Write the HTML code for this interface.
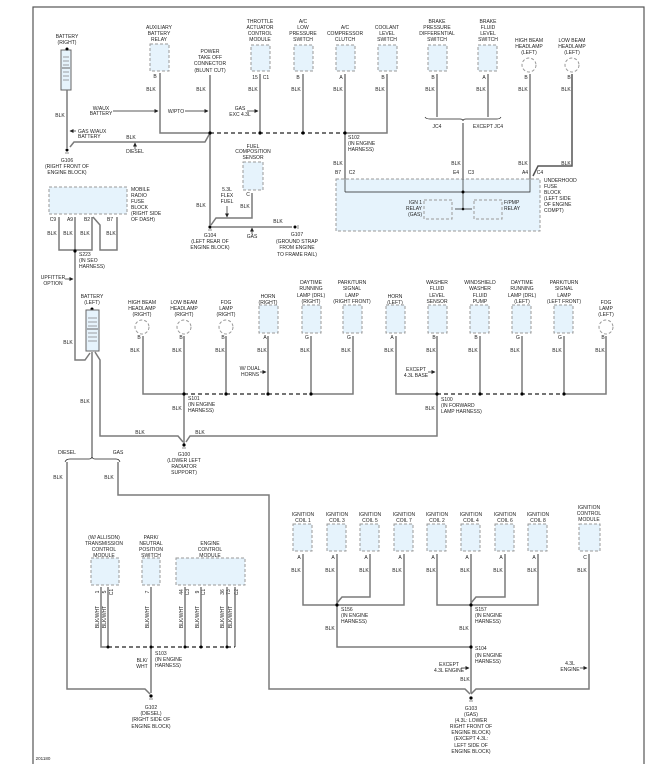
<!DOCTYPE html>
<html><head><meta charset="utf-8"><style>
html,body{margin:0;padding:0;background:#fff}
svg{display:block}
text{font-family:"Liberation Sans",sans-serif;font-size:5px;fill:#222;text-anchor:middle}
.l{text-anchor:start}.r{text-anchor:end}
.w{stroke:#7a7a7a;stroke-width:1.5;fill:none}
.d{stroke:#222;stroke-width:1.2;fill:none;stroke-dasharray:4 3}
.b{fill:#e6f3fc;stroke:#999;stroke-width:1;stroke-dasharray:3 2}
.c{fill:none;stroke:#999;stroke-width:1;stroke-dasharray:3 2}
.a{stroke:#222;stroke-width:.7;fill:none;marker-end:url(#ah)}
.n{stroke:#222;stroke-width:.7;fill:none}
</style></head><body>
<svg width="658" height="764" viewBox="0 0 658 764" xmlns="http://www.w3.org/2000/svg">
<defs><marker id="ah" markerWidth="4" markerHeight="4" refX="3.5" refY="2" orient="auto" markerUnits="userSpaceOnUse"><path d="M0 0L4 2L0 4z" fill="#222"/></marker></defs>
<rect x="33" y="7" width="611" height="770" fill="none" stroke="#555" stroke-width="1.2"/>
<rect class="b" x="61" y="50" width="10" height="40" style="stroke-dasharray:none;stroke:#666"/>
<g stroke="#666" stroke-width=".6"><line x1="63" y1="57" x2="69" y2="57"/><line x1="63" y1="61" x2="69" y2="61"/><line x1="63" y1="65" x2="69" y2="65"/><line x1="62" y1="68" x2="70" y2="68" stroke-width="1"/><line x1="63" y1="72" x2="69" y2="72"/><line x1="63" y1="76" x2="69" y2="76"/><line x1="63" y1="80" x2="69" y2="80"/></g>
<text x="67" y="38">BATTERY</text><text x="67" y="44">(RIGHT)</text>
<circle cx="67" cy="49" r="1.5"/>
<path class="w" d="M67 90V148"/><text x="60" y="117">BLK</text>
<path class="a" d="M76 131H70"/><text class="l" x="78" y="133">GAS W/AUX</text><text class="l" x="78" y="138">BATTERY</text>
<circle cx="67" cy="150" r="1.5"/><line x1="65" y1="153" x2="69" y2="153" stroke="#444" stroke-width=".6"/>
<text x="67" y="162">G106</text><text x="67" y="168">(RIGHT FRONT OF</text><text x="67" y="174">ENGINE BLOCK)</text>
<path class="w" d="M70 147L74 142H205L210 133"/><text x="131" y="139">BLK</text>
<path class="a" d="M135 149V143"/><text x="135" y="153">DIESEL</text>

<text x="159" y="29">AUXILIARY</text><text x="159" y="35">BATTERY</text><text x="159" y="41">RELAY</text>
<rect class="b" x="150" y="44" width="19" height="27"/><text x="155" y="78">B</text>
<path class="w" d="M160 73V133H210"/><text x="151" y="91">BLK</text>
<text x="101" y="110">W/AUX</text><text x="101" y="115">BATTERY</text><path class="a" d="M113 111H158"/>

<text x="210" y="53">POWER</text><text x="210" y="59">TAKE OFF</text><text x="210" y="65">CONNECTOR</text><text x="210" y="72">(BLUNT CUT)</text>
<path class="w" d="M210 75V225"/><text x="201" y="91">BLK</text><text x="201" y="207">BLK</text>
<text x="176" y="113">W/PTO</text><path class="a" d="M185 111H208"/>

<text x="260" y="23">THROTTLE</text><text x="260" y="29">ACTUATOR</text><text x="260" y="35">CONTROL</text><text x="260" y="41">MODULE</text>
<rect class="b" x="251" y="45" width="19" height="26"/><text x="255" y="79">15</text><text x="266" y="79">C1</text>
<path class="w" d="M260 74V133"/><text x="253" y="91">BLK</text>
<text x="240" y="110">GAS</text><text x="240" y="116">EXC 4.3L</text><path class="a" d="M247 111H258"/>

<text x="303" y="23">A/C</text><text x="303" y="29">LOW</text><text x="303" y="35">PRESSURE</text><text x="303" y="41">SWITCH</text>
<rect class="b" x="294" y="45" width="19" height="26"/><text x="298" y="79">B</text>
<path class="w" d="M303 74V133"/><text x="296" y="91">BLK</text>

<text x="345" y="29">A/C</text><text x="345" y="35">COMPRESSOR</text><text x="345" y="41">CLUTCH</text>
<rect class="b" x="336" y="45" width="19" height="26"/><text x="341" y="79">A</text>
<path class="w" d="M345 74V179"/><text x="338" y="91">BLK</text><text x="338" y="165">BLK</text>

<text x="387" y="29">COOLANT</text><text x="387" y="35">LEVEL</text><text x="387" y="41">SWITCH</text>
<rect class="b" x="378" y="45" width="19" height="26"/><text x="383" y="79">B</text>
<path class="w" d="M387 74V133H345"/><text x="380" y="91">BLK</text>
<path class="d" d="M210 133H345"/>
<circle cx="210" cy="133" r="1.6"/><circle cx="260" cy="133" r="1.6"/><circle cx="303" cy="133" r="1.6"/><circle cx="345" cy="133" r="1.6"/>
<text class="l" x="348" y="139">S102</text><text class="l" x="348" y="145">(IN ENGINE</text><text class="l" x="348" y="151">HARNESS)</text>

<text x="437" y="23">BRAKE</text><text x="437" y="29">PRESSURE</text><text x="437" y="35">DIFFERENTIAL</text><text x="437" y="41">SWITCH</text>
<rect class="b" x="428" y="45" width="19" height="26"/><text x="433" y="79">B</text>
<path class="w" d="M437 74V117"/><text x="430" y="91">BLK</text>
<text x="488" y="23">BRAKE</text><text x="488" y="29">FLUID</text><text x="488" y="35">LEVEL</text><text x="488" y="41">SWITCH</text>
<rect class="b" x="478" y="45" width="19" height="26"/><text x="484" y="79">A</text>
<path class="w" d="M488 74V117"/><text x="481" y="91">BLK</text>
<path class="n" d="M425 117Q426 119 430 119H460Q463 119 463 121Q463 119 466 119H497Q500 119 501 117"/>
<text x="437" y="128">JC4</text><text x="488" y="128">EXCEPT JC4</text>
<path class="w" d="M463 123V179"/><text x="456" y="165">BLK</text>

<text x="529" y="42">HIGH BEAM</text><text x="529" y="48">HEADLAMP</text><text x="529" y="54">(LEFT)</text>
<circle class="c" cx="529" cy="65" r="7"/><text x="526" y="79">B</text>
<path class="w" d="M530 74V179"/><text x="523" y="91">BLK</text><text x="523" y="165">BLK</text>
<text x="572" y="42">LOW BEAM</text><text x="572" y="48">HEADLAMP</text><text x="572" y="54">(LEFT)</text>
<circle class="c" cx="572" cy="65" r="7"/><text x="569" y="79">B</text>
<path class="w" d="M572 74V166H538L533 176" style="stroke:#555"/><text x="566" y="91">BLK</text><text x="566" y="165">BLK</text>

<rect class="b" x="336" y="179" width="204" height="52"/>
<text x="338" y="174">B7</text><text x="352" y="174">C2</text><text x="456" y="174">E4</text><text x="471" y="174">C3</text><text x="525" y="174">A4</text><text x="540" y="174">C4</text>
<path class="n" d="M345 192V179M345 192H530V179M463 179V209"/>
<circle cx="463" cy="192" r="1.5"/><circle cx="463" cy="209" r="1.3"/>
<path class="n" d="M455 209H472"/>
<rect class="b" x="424" y="200" width="28" height="19"/><rect class="b" x="474" y="200" width="28" height="19"/>
<text class="r" x="422" y="204">IGN 1</text><text class="r" x="422" y="210">RELAY</text><text class="r" x="422" y="216">(GAS)</text>
<text class="l" x="504" y="204">F/PMP</text><text class="l" x="504" y="210">RELAY</text>
<text class="l" x="544" y="182">UNDERHOOD</text><text class="l" x="544" y="188">FUSE</text><text class="l" x="544" y="194">BLOCK</text><text class="l" x="544" y="200">(LEFT SIDE</text><text class="l" x="544" y="206">OF ENGINE</text><text class="l" x="544" y="212">COMPT)</text>

<text x="253" y="148">FUEL</text><text x="253" y="153">COMPOSITION</text><text x="253" y="159">SENSOR</text>
<rect class="b" x="243" y="162" width="20" height="28"/><text x="248" y="196">C</text>
<path class="w" d="M252 193V218H216L211 225"/><text x="245" y="208">BLK</text>
<text x="227" y="191">5.3L</text><text x="227" y="197">FLEX</text><text x="227" y="203">FUEL</text><path class="a" d="M227 206V217"/>
<circle cx="210" cy="227" r="1.6"/><line x1="208" y1="230" x2="212" y2="230" stroke="#444" stroke-width=".6"/>
<path class="w" d="M212 227H292"/><circle cx="295" cy="227" r="1.5"/><line x1="298" y1="225" x2="298" y2="229" stroke="#444" stroke-width=".6"/>
<text x="278" y="223">BLK</text><text x="252" y="238">GAS</text><path class="a" d="M252 234V228"/>
<text x="210" y="237">G104</text><text x="210" y="243">(LEFT REAR OF</text><text x="210" y="249">ENGINE BLOCK)</text>
<text x="297" y="236">G107</text><text x="297" y="243">(GROUND STRAP</text><text x="297" y="249">FROM ENGINE</text><text x="297" y="256">TO FRAME RAIL)</text>

<rect class="b" x="49" y="187" width="78" height="27"/>
<text class="l" x="131" y="191">MOBILE</text><text class="l" x="131" y="197">RADIO</text><text class="l" x="131" y="203">FUSE</text><text class="l" x="131" y="209">BLOCK</text><text class="l" x="131" y="215">(RIGHT SIDE</text><text class="l" x="131" y="221">OF DASH)</text>
<text x="53" y="221">C9</text><text x="70" y="221">A9</text><text x="87" y="221">B2</text><text x="110" y="221">B7</text>
<path class="w" d="M59 217V250H92V217M75 217V300M93 217L100 225V250H117V217"/>
<text x="52" y="235">BLK</text><text x="68" y="235">BLK</text><text x="85" y="235">BLK</text><text x="111" y="235">BLK</text>
<circle cx="75" cy="251" r="1.6"/>
<text class="l" x="79" y="256">S223</text><text class="l" x="79" y="262">(IN SEO</text><text class="l" x="79" y="268">HARNESS)</text>
<text x="53" y="279">UPFITTER</text><text x="53" y="285">OPTION</text><path class="a" d="M65 279H73"/>
<path class="w" d="M75 300V360H85L90 353"/><text x="68" y="344">BLK</text>

<text x="92" y="298">BATTERY</text><text x="92" y="304">(LEFT)</text>
<circle cx="92" cy="309" r="1.5"/>
<rect class="b" x="86" y="310" width="13" height="41" style="stroke-dasharray:none;stroke:#666"/>
<g stroke="#666" stroke-width=".6"><line x1="88" y1="318" x2="97" y2="318"/><line x1="88" y1="322" x2="97" y2="322"/><line x1="88" y1="326" x2="97" y2="326"/><line x1="87" y1="329" x2="98" y2="329" stroke-width="1"/><line x1="88" y1="333" x2="97" y2="333"/><line x1="88" y1="337" x2="97" y2="337"/><line x1="88" y1="341" x2="97" y2="341"/></g>
<path class="w" d="M92 352V456"/><text x="85" y="403">BLK</text>
<path class="w" d="M95 352L100 360V436H178L183 442"/><text x="140" y="434">BLK</text>
<path class="n" d="M65 462Q66 459 70 459H89Q92 459 92 456Q92 459 95 459H116Q119 459 120 462"/>
<text x="67" y="454">DIESEL</text><text x="118" y="454">GAS</text>
<path class="w" d="M67 462V689H145L150 694M118 462V495H269V689H465L470 694"/>
<text x="58" y="479">BLK</text><text x="109" y="479">BLK</text>

<text x="142" y="304">HIGH BEAM</text><text x="142" y="310">HEADLAMP</text><text x="142" y="316">(RIGHT)</text>
<circle class="c" cx="142" cy="327" r="7"/><text x="139" y="339">B</text>
<text x="184" y="304">LOW BEAM</text><text x="184" y="310">HEADLAMP</text><text x="184" y="316">(RIGHT)</text>
<circle class="c" cx="184" cy="327" r="7"/><text x="181" y="339">B</text>
<text x="226" y="304">FOG</text><text x="226" y="310">LAMP</text><text x="226" y="316">(RIGHT)</text>
<circle class="c" cx="226" cy="327" r="7"/><text x="223" y="339">B</text>
<text x="268" y="298">HORN</text><text x="268" y="304">(RIGHT)</text>
<rect class="b" x="259" y="305" width="19" height="28"/><text x="265" y="339">A</text>
<text x="311" y="284">DAYTIME</text><text x="311" y="290">RUNNING</text><text x="311" y="297">LAMP (DRL)</text><text x="311" y="303">(RIGHT)</text>
<rect class="b" x="302" y="305" width="19" height="28"/><text x="307" y="339">G</text>
<text x="352" y="284">PARK/TURN</text><text x="352" y="290">SIGNAL</text><text x="352" y="297">LAMP</text><text x="352" y="303">(RIGHT FRONT)</text>
<rect class="b" x="343" y="305" width="19" height="28"/><text x="349" y="339">G</text>
<path class="w" d="M143 336V394H184M184 336V444M226 336V394M268 336V394M311 336V394M353 336V394H311"/>
<path class="d" d="M184 394H311"/>
<circle cx="184" cy="394" r="1.6"/><circle cx="226" cy="394" r="1.6"/><circle cx="268" cy="394" r="1.6"/><circle cx="311" cy="394" r="1.6"/>
<text x="135" y="352">BLK</text><text x="177" y="352">BLK</text><text x="220" y="352">BLK</text><text x="262" y="352">BLK</text><text x="305" y="352">BLK</text><text x="346" y="352">BLK</text>
<text x="250" y="370">W/ DUAL</text><text x="250" y="376">HORNS</text><path class="a" d="M260 372H266"/>
<text class="l" x="188" y="400">S101</text><text class="l" x="188" y="406">(IN ENGINE</text><text class="l" x="188" y="412">HARNESS)</text><text x="177" y="410">BLK</text>

<text x="395" y="298">HORN</text><text x="395" y="304">(LEFT)</text>
<rect class="b" x="386" y="305" width="19" height="28"/><text x="392" y="339">A</text>
<text x="437" y="284">WASHER</text><text x="437" y="290">FLUID</text><text x="437" y="297">LEVEL</text><text x="437" y="303">SENSOR</text>
<rect class="b" x="428" y="305" width="19" height="28"/><text x="434" y="339">B</text>
<text x="480" y="284">WINDSHIELD</text><text x="480" y="290">WASHER</text><text x="480" y="297">FLUID</text><text x="480" y="303">PUMP</text>
<rect class="b" x="470" y="305" width="19" height="28"/><text x="476" y="339">B</text>
<text x="522" y="284">DAYTIME</text><text x="522" y="290">RUNNING</text><text x="522" y="297">LAMP (DRL)</text><text x="522" y="303">(LEFT)</text>
<rect class="b" x="512" y="305" width="19" height="28"/><text x="518" y="339">G</text>
<text x="564" y="284">PARK/TURN</text><text x="564" y="290">SIGNAL</text><text x="564" y="297">LAMP</text><text x="564" y="303">(LEFT FRONT)</text>
<rect class="b" x="554" y="305" width="19" height="28"/><text x="560" y="339">G</text>
<text x="606" y="304">FOG</text><text x="606" y="310">LAMP</text><text x="606" y="316">(LEFT)</text>
<circle class="c" cx="606" cy="327" r="7"/><text x="603" y="339">B</text>
<path class="w" d="M396 336V394H437M437 336V436H190L186 442M480 336V394M522 336V394M564 336V394M606 336V394H564"/>
<path class="d" d="M437 394H564"/>
<circle cx="437" cy="394" r="1.6"/><circle cx="480" cy="394" r="1.6"/><circle cx="522" cy="394" r="1.6"/><circle cx="564" cy="394" r="1.6"/>
<text x="389" y="352">BLK</text><text x="431" y="352">BLK</text><text x="473" y="352">BLK</text><text x="515" y="352">BLK</text><text x="557" y="352">BLK</text><text x="600" y="352">BLK</text>
<text x="416" y="371">EXCEPT</text><text x="416" y="377">4.3L BASE</text><path class="a" d="M428 372H435"/>
<text class="l" x="441" y="401">S100</text><text class="l" x="441" y="407">(IN FORWARD</text><text class="l" x="441" y="413">LAMP HARNESS)</text><text x="430" y="410">BLK</text>
<text x="200" y="434">BLK</text>
<circle cx="184" cy="445" r="1.6"/><line x1="182" y1="448" x2="186" y2="448" stroke="#444" stroke-width=".6"/>
<text x="184" y="456">G100</text><text x="184" y="462">(LOWER LEFT</text><text x="184" y="468">RADIATOR</text><text x="184" y="474">SUPPORT)</text>

<text x="104" y="539">(W/ ALLISON)</text><text x="104" y="545">TRANSMISSION</text><text x="104" y="551">CONTROL</text><text x="104" y="557">MODULE</text>
<rect class="b" x="91" y="558" width="28" height="27"/>
<text x="151" y="539">PARK/</text><text x="151" y="545">NEUTRAL</text><text x="151" y="551">POSITION</text><text x="151" y="557">SWITCH</text>
<rect class="b" x="142" y="558" width="18" height="27"/>
<text x="210" y="545">ENGINE</text><text x="210" y="551">CONTROL</text><text x="210" y="557">MODULE</text>
<rect class="b" x="176" y="558" width="69" height="27"/>
<g style="font-size:4.5px">
<text transform="translate(99 592) rotate(-90)">1</text><text transform="translate(106 592) rotate(-90)">5</text><text transform="translate(113 592) rotate(-90)">C1</text>
<text transform="translate(149 592) rotate(-90)">7</text>
<text transform="translate(183 592) rotate(-90)">44</text><text transform="translate(189 592) rotate(-90)">C3</text><text transform="translate(199 592) rotate(-90)">9</text><text transform="translate(205 592) rotate(-90)">C1</text><text transform="translate(224 592) rotate(-90)">36</text><text transform="translate(230 592) rotate(-90)">73</text><text transform="translate(238 592) rotate(-90)">C2</text>
<text transform="translate(99 617) rotate(-90)">BLK/WHT</text><text transform="translate(106 617) rotate(-90)">BLK/WHT</text><text transform="translate(149 617) rotate(-90)">BLK/WHT</text><text transform="translate(183 617) rotate(-90)">BLK/WHT</text><text transform="translate(199 617) rotate(-90)">BLK/WHT</text><text transform="translate(224 617) rotate(-90)">BLK/WHT</text><text transform="translate(232 617) rotate(-90)">BLK/WHT</text>
</g>
<path class="w" d="M101 587V647H108M108 587V647M151 587V693M185 587V647M201 587V647M227 587V647M235 587V647"/>
<path class="d" d="M108 647H235"/>
<circle cx="108" cy="647" r="1.5"/><circle cx="151" cy="647" r="1.5"/><circle cx="185" cy="647" r="1.5"/><circle cx="201" cy="647" r="1.5"/><circle cx="227" cy="647" r="1.5"/>
<text class="l" x="155" y="655">S103</text><text class="l" x="155" y="661">(IN ENGINE</text><text class="l" x="155" y="667">HARNESS)</text>
<text x="142" y="662">BLK/</text><text x="142" y="668">WHT</text>
<circle cx="151" cy="696" r="1.6"/><line x1="149" y1="699" x2="153" y2="699" stroke="#444" stroke-width=".6"/>
<text x="151" y="709">G102</text><text x="151" y="715">(DIESEL)</text><text x="151" y="721">(RIGHT SIDE OF</text><text x="151" y="728">ENGINE BLOCK)</text>
<text x="43" y="760" style="font-size:4.5px">201180</text>

<g>
<text x="303" y="516">IGNITION</text><text x="303" y="522">COIL 1</text><rect class="b" x="293" y="524" width="19" height="27"/><text x="299" y="559">A</text>
<text x="337" y="516">IGNITION</text><text x="337" y="522">COIL 3</text><rect class="b" x="327" y="524" width="19" height="27"/><text x="333" y="559">A</text>
<text x="370" y="516">IGNITION</text><text x="370" y="522">COIL 5</text><rect class="b" x="360" y="524" width="19" height="27"/><text x="366" y="559">A</text>
<text x="404" y="516">IGNITION</text><text x="404" y="522">COIL 7</text><rect class="b" x="394" y="524" width="19" height="27"/><text x="400" y="559">A</text>
<text x="437" y="516">IGNITION</text><text x="437" y="522">COIL 2</text><rect class="b" x="427" y="524" width="19" height="27"/><text x="433" y="559">A</text>
<text x="471" y="516">IGNITION</text><text x="471" y="522">COIL 4</text><rect class="b" x="461" y="524" width="19" height="27"/><text x="467" y="559">A</text>
<text x="505" y="516">IGNITION</text><text x="505" y="522">COIL 6</text><rect class="b" x="495" y="524" width="19" height="27"/><text x="501" y="559">A</text>
<text x="538" y="516">IGNITION</text><text x="538" y="522">COIL 8</text><rect class="b" x="528" y="524" width="19" height="27"/><text x="534" y="559">A</text>
<text x="589" y="509">IGNITION</text><text x="589" y="515">CONTROL</text><text x="589" y="521">MODULE</text><rect class="b" x="579" y="524" width="21" height="27"/><text x="585" y="559">C</text>
</g>
<path class="w" d="M303 554V605H404V554M337 554V647H471M370 554V597H342L337 603M437 554V605H538V554M471 554V693M505 554V597H476L471 603M589 554V689H476L471 694"/>
<text x="296" y="572">BLK</text><text x="330" y="572">BLK</text><text x="364" y="572">BLK</text><text x="397" y="572">BLK</text><text x="431" y="572">BLK</text><text x="465" y="572">BLK</text><text x="498" y="572">BLK</text><text x="532" y="572">BLK</text><text x="582" y="572">BLK</text>
<circle cx="337" cy="605" r="1.6"/><circle cx="471" cy="605" r="1.6"/><circle cx="471" cy="647" r="1.6"/>
<text class="l" x="341" y="611">S156</text><text class="l" x="341" y="617">(IN ENGINE</text><text class="l" x="341" y="623">HARNESS)</text><text x="330" y="630">BLK</text>
<text class="l" x="475" y="611">S157</text><text class="l" x="475" y="617">(IN ENGINE</text><text class="l" x="475" y="623">HARNESS)</text><text x="464" y="630">BLK</text>
<text class="l" x="475" y="650">S104</text><text class="l" x="475" y="657">(IN ENGINE</text><text class="l" x="475" y="663">HARNESS)</text>
<text x="449" y="666">EXCEPT</text><text x="449" y="672">4.3L ENGINE</text><path class="a" d="M461 668H469"/>
<text x="465" y="681">BLK</text>
<text x="570" y="665">4.3L</text><text x="570" y="671">ENGINE</text><path class="a" d="M580 668H587"/>
<circle cx="471" cy="698" r="1.6"/><line x1="469" y1="701" x2="473" y2="701" stroke="#444" stroke-width=".6"/>
<text x="471" y="710">G103</text><text x="471" y="716">(GAS)</text><text x="471" y="722">(4.3L: LOWER</text><text x="471" y="728">RIGHT FRONT OF</text><text x="471" y="734">ENGINE BLOCK)</text><text x="471" y="740">(EXCEPT 4.3L:</text><text x="471" y="747">LEFT SIDE OF</text><text x="471" y="753">ENGINE BLOCK)</text>
</svg>
</body></html>
